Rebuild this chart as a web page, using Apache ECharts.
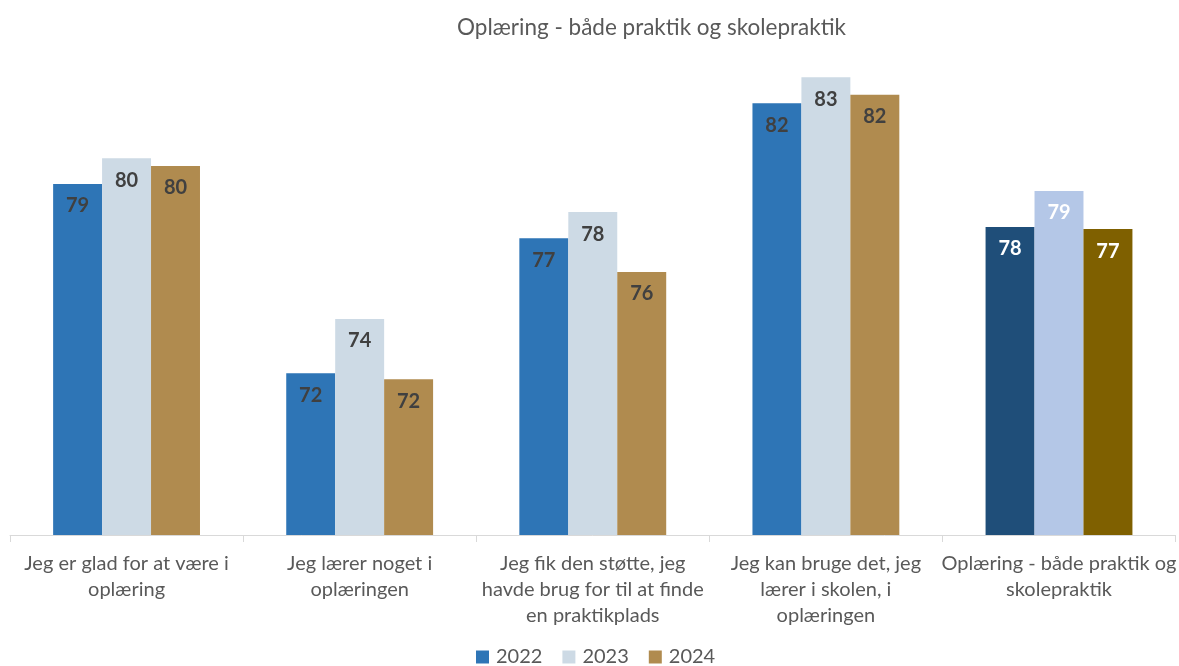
<!DOCTYPE html>
<html>
<head>
<meta charset="utf-8">
<script src="https://cdn.jsdelivr.net/npm/echarts@6/dist/echarts.min.js"></script>
<style>
  html, body { margin: 0; padding: 0; background: #fff; }
  #main { width: 1179px; height: 666px; }
</style>
</head>
<body>
<div id="main"></div>
<script>
var categories = [
  'Jeg er glad for at være i\noplæring',
  'Jeg lærer noget i\noplæringen',
  'Jeg fik den støtte, jeg\nhavde brug for til at finde\nen praktikplads',
  'Jeg kan bruge det, jeg\nlærer i skolen, i\noplæringen',
  'Oplæring - både praktik og\nskolepraktik'
];
var years = ['2022', '2023', '2024'];
var values2022 = [79.13, 72.12, 77.12, 82.12, 77.54];
var values2023 = [80.08, 74.13, 78.09, 83.08, 78.87];
var values2024 = [79.80, 71.90, 75.87, 82.44, 77.46];

var mainColors = ['#2E75B6', '#CDDAE5', '#B08B4F'];
var totalColors = ['#1F4E79', '#B4C7E7', '#7F6000'];

var myChart = echarts.init(document.getElementById('main'));
var font = 'Lato';

function buildSeries(name, values, idx) {
  var data = [];
  for (var i = 0; i < values.length; i++) {
    var last = i === values.length - 1;
    data.push({
      value: values[i],
      itemStyle: { color: last ? totalColors[idx] : mainColors[idx] },
      label: { color: last ? '#ffffff' : '#404040' }
    });
  }
  return {
    name: name,
    type: 'bar',
    barGap: 0,
    barCategoryGap: '37%',
    itemStyle: { color: mainColors[idx] },
    label: {
      show: true,
      position: 'insideTop',
      distance: 12,
      fontFamily: font,
      fontWeight: 'bold',
      fontSize: 20,
      formatter: function (p) { return Math.round(p.value); }
    },
    data: data
  };
}

var option = {
  animation: false,
  title: {
    text: 'Oplæring - både praktik og skolepraktik',
    left: 452,
    top: 11,
    textStyle: { fontFamily: font, fontSize: 22.5, fontWeight: 'normal', color: '#595959' }
  },
  legend: {
    data: years,
    bottom: -6,
    left: 471,
    icon: 'rect',
    itemWidth: 13,
    itemHeight: 13,
    itemGap: 20,
    textStyle: { fontFamily: font, fontSize: 20, color: '#595959', padding: [0, 0, 0, 2] }
  },
  grid: { left: 10, right: -1, top: 22, bottom: 131 },
  xAxis: {
    type: 'category',
    data: categories,
    axisLine: { lineStyle: { color: '#D9D9D9' } },
    axisTick: { show: true, length: 7, lineStyle: { color: '#D9D9D9' } },
    axisLabel: {
      interval: 0,
      margin: 16,
      fontFamily: font,
      fontSize: 20,
      lineHeight: 26,
      color: '#595959'
    }
  },
  yAxis: {
    type: 'value',
    min: 66.13,
    max: 85.13,
    show: false,
    splitLine: { show: false }
  },
  series: [
    buildSeries(years[0], values2022, 0),
    buildSeries(years[1], values2023, 1),
    buildSeries(years[2], values2024, 2)
  ]
};
myChart.setOption(option);
</script>
</body>
</html>
